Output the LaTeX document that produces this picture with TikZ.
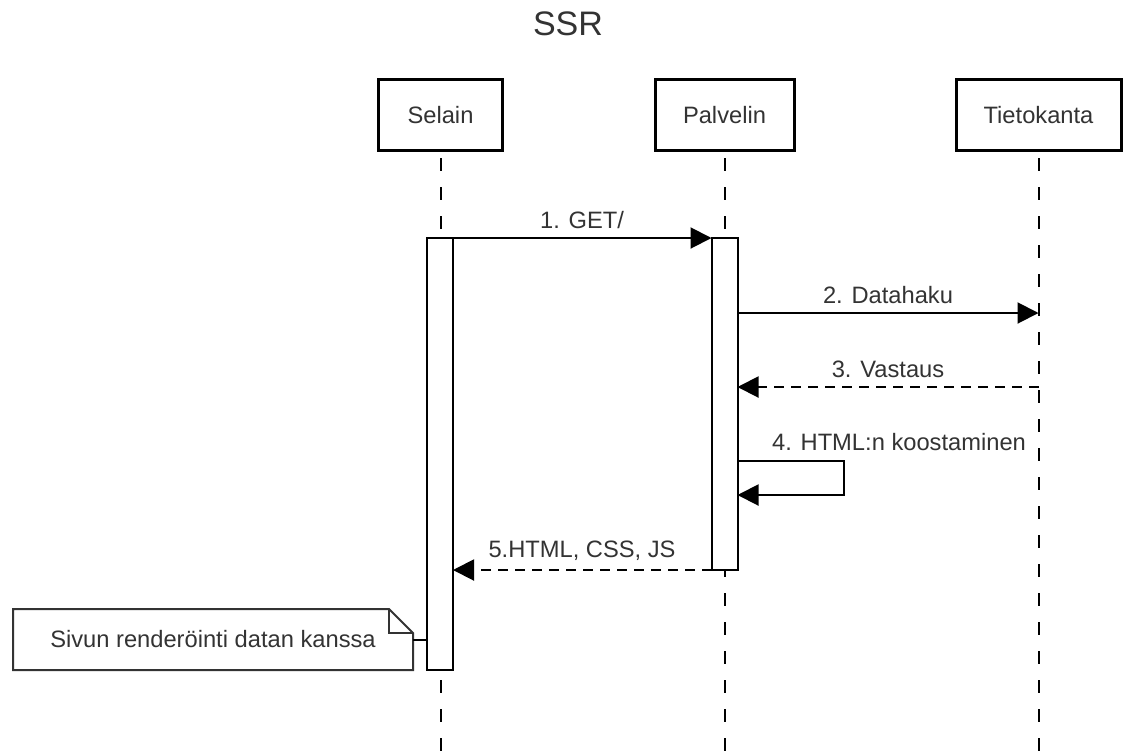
\documentclass[tikz,border=0pt]{standalone}
\usepackage{fontspec}
\setmainfont{Liberation Sans}
\usetikzlibrary{arrows.meta}
\definecolor{txt}{HTML}{333333}
\begin{document}
\begin{tikzpicture}[x=1pt,y=-1pt,
  lblfont/.style={font=\fontsize{23.7}{28}\selectfont, text=txt},
  part/.style={draw=black, line width=3pt, fill=white, inner sep=0pt, outer sep=0pt, lblfont},
  act/.style={draw=black, line width=2pt, fill=white, minimum width=26pt, inner sep=0pt, outer sep=0pt},
  life/.style={draw=black, line width=2pt, dash pattern=on 13pt off 16pt, dash phase=21.5pt},
  msg/.style={draw=black, line width=2pt, -{Triangle[length=21pt,width=21pt]}},
  reply/.style={msg, dash pattern=on 10pt off 7pt},
  lbl/.style={lblfont, anchor=base, inner sep=0pt},
  notel/.style={draw=txt, line width=2pt, line join=miter},
]
\useasboundingbox (0,0) rectangle (1124,753);

% title
\node[font=\fontsize{34}{40}\selectfont, text=txt] (title) at (568,24) {SSR};

% participants
\node[part, minimum width=124pt, minimum height=71pt] (s) at (440.5,115) {Selain};
\node[part, minimum width=139pt, minimum height=71pt] (p) at (724.5,115) {Palvelin};
\node[part, minimum width=165pt, minimum height=71pt] (t) at (1038.5,115) {Tietokanta};

% lifelines
\coordinate (sl) at (440.5,753);
\coordinate (pl) at (724.5,753);
\coordinate (tl) at (1038.5,753);
\draw[life] (s.south) -- (sl);
\draw[life] (p.south) -- (pl);
\draw[life] (t.south) -- (tl);

% activations
\node[act, minimum height=432pt] (sa) at (440,454) {};
\node[act, minimum height=332pt] (pa) at (724.5,404) {};

% 1
\draw[msg] (sa.north east) -- (pa.north west);
\node[lbl] (l1) at (582,228) {1. GET/};

% 2
\coordinate (m2) at (1038.5,313);
\draw[msg] (pa.east |- m2) -- (m2);
\node[lbl] (l2) at (888,303) {2. Datahaku};

% 3
\coordinate (m3) at (1038.5,387);
\draw[reply] (m3) -- (pa.east |- m3);
\node[lbl] (l3) at (888,377) {3. Vastaus};

% 4 self message
\coordinate (m4a) at (844,461);
\coordinate (m4b) at (844,495);
\draw[msg, line join=miter] (pa.east |- m4a) -- (m4a) -- (m4b) -- (pa.east |- m4b);
\node[lbl] (l4) at (899,450) {4. HTML:n koostaminen};

% 5
\draw[reply] (pa.south west) -- (sa.east |- pa.south);
\node[lbl] (l5) at (582,557) {5.HTML, CSS, JS};

% note
\node[inner sep=0pt, outer sep=0pt, minimum width=400pt, minimum height=61pt, lblfont] (n) at (213,639.5) {Sivun renderöinti datan kanssa};
\draw[notel] (n.north west) -- ([xshift=-24pt]n.north east) -- ([yshift=-24pt]n.north east) -- (n.south east) -- (n.south west) -- cycle;
\draw[notel] ([xshift=-24pt]n.north east) |- ([yshift=-24pt]n.north east);
\draw[line width=2pt] (n.east) -- (sa.west |- n.east);
\end{tikzpicture}
\end{document}
